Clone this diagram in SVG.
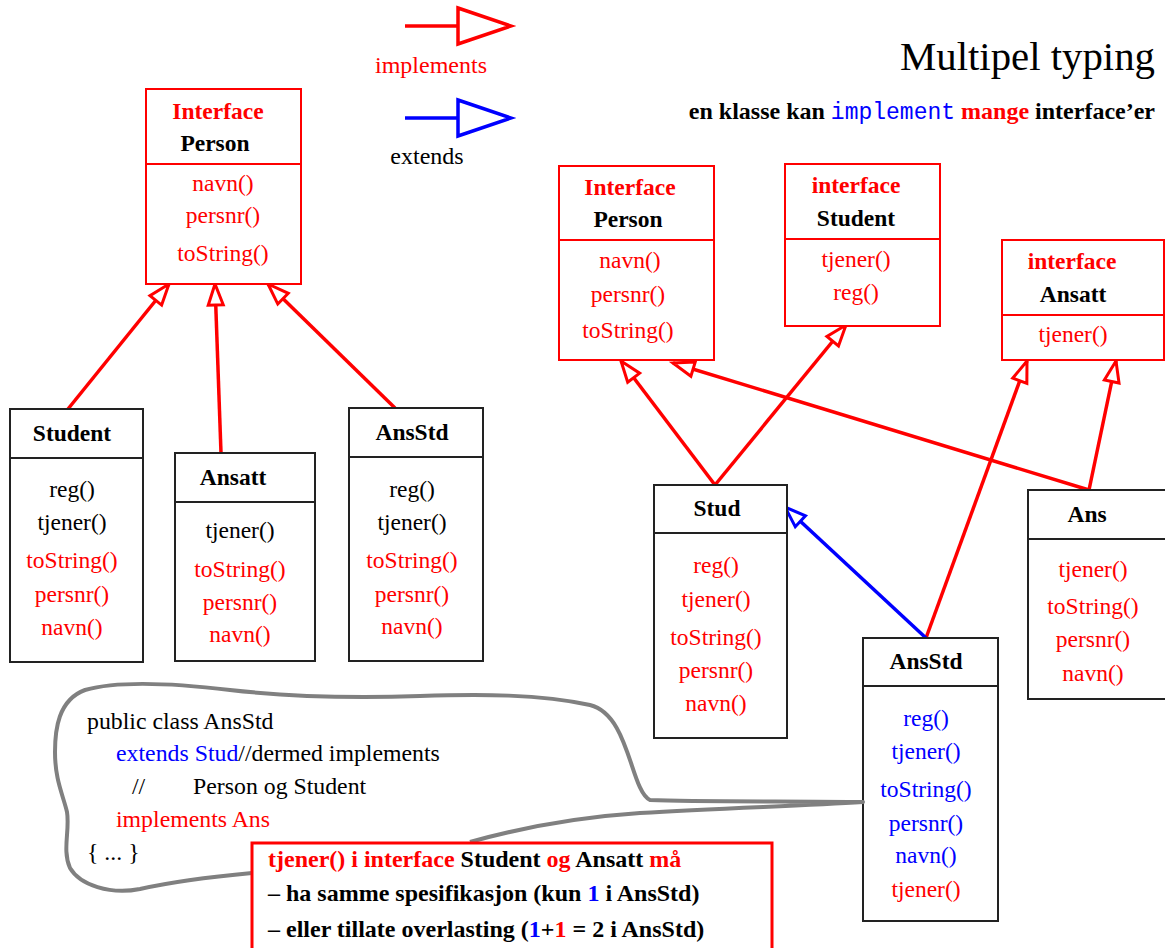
<svg xmlns="http://www.w3.org/2000/svg" width="1165" height="948" viewBox="0 0 1165 948">
<defs>
<style>
text{font-family:"Liberation Serif","Times New Roman",serif;font-size:23.5px;text-anchor:middle}
.b{font-weight:bold}
.r{fill:#ff0000}
.bl{fill:#0000ff}
.ibox{fill:#fff;stroke:#ff0000;stroke-width:2}
.cbox{fill:#fff;stroke:#222;stroke-width:2}
.imp{stroke:#ff0000;stroke-width:3.5;fill:none;marker-end:url(#hr)}
.ext{stroke:#0000ff;stroke-width:3.5;fill:none;marker-end:url(#hb)}
.code{font-size:23.8px;text-anchor:start}
.note{font-size:24px;text-anchor:start;font-weight:bold}
</style>
<marker id="hr" markerUnits="userSpaceOnUse" markerWidth="30" markerHeight="30" refX="25" refY="10" orient="auto" viewBox="0 0 30 20">
<path d="M25,10 L4,2.5 L4,17.5 Z" fill="#fff" stroke="#ff0000" stroke-width="3"/>
</marker>
<marker id="hb" markerUnits="userSpaceOnUse" markerWidth="30" markerHeight="30" refX="25" refY="10" orient="auto" viewBox="0 0 30 20">
<path d="M25,10 L4,2.5 L4,17.5 Z" fill="#fff" stroke="#0000ff" stroke-width="3"/>
</marker>
</defs>
<rect width="1165" height="948" fill="#fff"/>

<g id="legend">
<line x1="405" y1="26" x2="458" y2="26" stroke="#ff0000" stroke-width="3.5"/>
<polygon points="458,8 511,26 458,44" fill="#fff" stroke="#ff0000" stroke-width="3.5"/>
<text x="431" y="73" class="r" style="font-size:24px">implements</text>
<line x1="405" y1="118" x2="458" y2="118" stroke="#0000ff" stroke-width="3.5"/>
<polygon points="458,100 511,118 458,136" fill="#fff" stroke="#0000ff" stroke-width="3.5"/>
<text x="427" y="164" style="font-size:24px">extends</text>
</g>
<g id="title">
<text x="1155" y="70" style="font-size:40.8px;text-anchor:end">Multipel typing</text>
<text x="1155" y="119" style="font-size:24px;text-anchor:end" class="b">en klasse kan <tspan style="font-family:'Liberation Mono','Courier New',monospace;font-weight:normal;font-size:23px" fill="#0000ff">implement</tspan> <tspan fill="#ff0000">mange</tspan> interface’er</text>
</g>

<g id="connectors">
<line class="imp" x1="68" y1="409" x2="169" y2="284"/>
<line class="imp" x1="221" y1="453" x2="215" y2="284"/>
<line class="imp" x1="395" y1="408" x2="268" y2="284"/>
<line class="imp" x1="715" y1="485" x2="621" y2="361"/>
<line class="imp" x1="715" y1="485" x2="846" y2="325"/>
<line class="imp" x1="1089" y1="490" x2="673" y2="363"/>
<line class="imp" x1="1089" y1="490" x2="1116" y2="361"/>
<line class="imp" x1="926" y1="638" x2="1027" y2="361"/>
<line class="ext" x1="926" y1="638" x2="785" y2="507"/>
</g>

<g id="iPersonL">
<rect class="ibox" x="146" y="89" width="155" height="195"/>
<line x1="146" y1="164" x2="301" y2="164" stroke="#ff0000" stroke-width="2"/>
<text x="218" y="119" class="b r">Interface</text>
<text x="215" y="151" class="b">Person</text>
<text x="223" y="191" class="r">navn()</text>
<text x="223" y="223" class="r">persnr()</text>
<text x="223" y="261" class="r">toString()</text>
</g>
<g id="StudentL">
<rect class="cbox" x="10" y="409" width="133" height="253"/>
<line x1="10" y1="458" x2="143" y2="458" stroke="#222" stroke-width="2"/>
<text x="72" y="441" class="b">Student</text>
<text x="72" y="497">reg()</text>
<text x="72" y="530">tjener()</text>
<text x="72" y="568" class="r">toString()</text>
<text x="72" y="602" class="r">persnr()</text>
<text x="72" y="635" class="r">navn()</text>
</g>
<g id="AnsattL">
<rect class="cbox" x="175" y="453" width="140" height="208"/>
<line x1="175" y1="502" x2="315" y2="502" stroke="#222" stroke-width="2"/>
<text x="233" y="485" class="b">Ansatt</text>
<text x="240" y="538">tjener()</text>
<text x="240" y="577" class="r">toString()</text>
<text x="240" y="610" class="r">persnr()</text>
<text x="240" y="642" class="r">navn()</text>
</g>
<g id="AnsStdL">
<rect class="cbox" x="349" y="408" width="134" height="253"/>
<line x1="349" y1="457" x2="483" y2="457" stroke="#222" stroke-width="2"/>
<text x="412" y="440" class="b">AnsStd</text>
<text x="412" y="497">reg()</text>
<text x="412" y="530">tjener()</text>
<text x="412" y="568" class="r">toString()</text>
<text x="412" y="602" class="r">persnr()</text>
<text x="412" y="634" class="r">navn()</text>
</g>

<g id="iPersonR">
<rect class="ibox" x="559" y="166" width="155" height="194"/>
<line x1="559" y1="240" x2="714" y2="240" stroke="#ff0000" stroke-width="2"/>
<text x="630" y="195" class="b r">Interface</text>
<text x="628" y="227" class="b">Person</text>
<text x="630" y="268" class="r">navn()</text>
<text x="628" y="302" class="r">persnr()</text>
<text x="628" y="338" class="r">toString()</text>
</g>
<g id="iStudentR">
<rect class="ibox" x="785" y="164" width="155" height="162"/>
<line x1="785" y1="239" x2="940" y2="239" stroke="#ff0000" stroke-width="2"/>
<text x="856" y="193" class="b r">interface</text>
<text x="856" y="226" class="b">Student</text>
<text x="856" y="267" class="r">tjener()</text>
<text x="856" y="300" class="r">reg()</text>
</g>
<g id="iAnsattR">
<rect class="ibox" x="1002" y="240" width="162" height="120"/>
<line x1="1002" y1="315" x2="1164" y2="315" stroke="#ff0000" stroke-width="2"/>
<text x="1072" y="269" class="b r">interface</text>
<text x="1073" y="302" class="b">Ansatt</text>
<text x="1073" y="342" class="r">tjener()</text>
</g>
<g id="Stud">
<rect class="cbox" x="654" y="485" width="133" height="253"/>
<line x1="654" y1="533" x2="787" y2="533" stroke="#222" stroke-width="2"/>
<text x="717" y="516" class="b">Stud</text>
<text x="716" y="573" class="r">reg()</text>
<text x="716" y="607" class="r">tjener()</text>
<text x="716" y="645" class="r">toString()</text>
<text x="716" y="678" class="r">persnr()</text>
<text x="716" y="711" class="r">navn()</text>
</g>
<g id="Ans">
<rect class="cbox" x="1028" y="490" width="145" height="209"/>
<line x1="1028" y1="539" x2="1173" y2="539" stroke="#222" stroke-width="2"/>
<text x="1087" y="522" class="b">Ans</text>
<text x="1093" y="577" class="r">tjener()</text>
<text x="1093" y="614" class="r">toString()</text>
<text x="1093" y="647" class="r">persnr()</text>
<text x="1093" y="681" class="r">navn()</text>
</g>
<g id="AnsStdR">
<rect class="cbox" x="863" y="638" width="135" height="283"/>
<line x1="863" y1="686" x2="998" y2="686" stroke="#222" stroke-width="2"/>
<text x="926" y="669" class="b">AnsStd</text>
<text x="926" y="726" class="bl">reg()</text>
<text x="926" y="759" class="bl">tjener()</text>
<text x="926" y="797" class="bl">toString()</text>
<text x="926" y="831" class="bl">persnr()</text>
<text x="926" y="863" class="bl">navn()</text>
<text x="926" y="897" class="r">tjener()</text>
</g>

<g id="bubble">
<path d="M252,873 C220,876 180,880 140,889 C110,895 80,885 70,868 C62,850 70,830 67,812 C63,795 55,780 55,752 C55,730 58,700 85,690 C120,680 180,684 230,690 C300,698 360,698 420,696 C480,694 540,694 590,705 C630,715 630,790 650,800 C700,802 800,801 863,802 C800,806 720,808 640,813 C580,817 520,828 470,842" fill="none" stroke="#808080" stroke-width="4" stroke-linejoin="round"/>
<text class="code" x="87" y="729">public class AnsStd</text>
<text class="code" x="116" y="761"><tspan fill="#0000ff">extends Stud</tspan>//dermed implements</text>
<text class="code" x="132" y="794">//</text>
<text class="code" x="193" y="794">Person og Student</text>
<text class="code r" x="116" y="827">implements Ans</text>
<text class="code" x="87" y="860">{ ... }</text>
</g>

<g id="note">
<rect x="252" y="843" width="520" height="110" fill="#fff" stroke="#ff0000" stroke-width="3"/>
<text class="note" x="268" y="867"><tspan fill="#ff0000">tjener() i interface</tspan> Student <tspan fill="#ff0000">og</tspan> Ansatt <tspan fill="#ff0000">må</tspan></text>
<text class="note" x="268" y="901">– ha samme spesifikasjon (kun <tspan fill="#0000ff">1</tspan> i AnsStd)</text>
<text class="note" x="268" y="937">– eller tillate overlasting (<tspan fill="#0000ff">1</tspan>+<tspan fill="#ff0000">1</tspan> = 2 i AnsStd)</text>
</g>
</svg>
